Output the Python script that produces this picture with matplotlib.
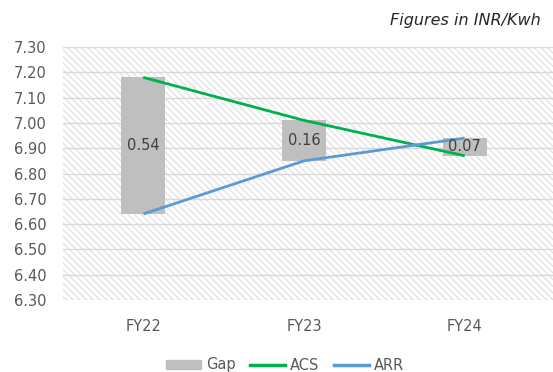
import matplotlib.pyplot as plt
import numpy as np
from matplotlib.patches import Rectangle, Patch
from matplotlib.lines import Line2D

plt.rcParams['font.family'] = ['DejaVu Sans']
plt.rcParams['hatch.linewidth'] = 0.8

categories = ['FY22', 'FY23', 'FY24']
acs = [7.18, 7.01, 6.87]
arr = [6.64, 6.85, 6.94]
gap_labels = ['0.54', '0.16', '0.07']
y_ticks = np.arange(6.30, 7.31, 0.10)

txt = '#595959'
fig = plt.figure(figsize=(5.53, 3.72), dpi=100)
ax = fig.add_axes([63/553, 1-300/372, 1-63/553, (300-47)/372])

# hatched plot area
ax.add_patch(Rectangle((0, 0), 1, 1, transform=ax.transAxes, fill=False,
                       hatch='\\\\\\\\\\', edgecolor='#dedede', linewidth=0, zorder=0))

x = np.arange(len(categories))
lo = np.minimum(acs, arr)
hi = np.maximum(acs, arr)
ax.bar(x, hi - lo, bottom=lo, width=0.275, color='#bfbfbf', zorder=2)
for xi, l, h, lab in zip(x, lo, hi, gap_labels):
    ax.text(xi, (l + h) / 2, lab, ha='center', va='center', fontsize=10.5,
            color='#404040', zorder=5)

ax.plot(x, acs, color='#00b050', lw=2.0, zorder=3, solid_capstyle='butt')
ax.plot(x, arr, color='#5b9bd5', lw=2.0, zorder=4, solid_capstyle='butt')

ax.set_ylim(6.30, 7.30)
ax.set_yticks(y_ticks)
ax.set_yticklabels([f'{v:.2f}' for v in y_ticks])
ax.set_xlim(-0.5, 2.55)
ax.set_xticks(x)
ax.set_xticklabels(categories)
ax.tick_params(length=0, labelsize=10.5, colors=txt)
ax.tick_params(axis='x', pad=14)
ax.tick_params(axis='y', pad=12)
ax.grid(axis='y', color='#d9d9d9', lw=1.0, zorder=1)
ax.set_axisbelow(True)
for s in ax.spines.values():
    s.set_visible(False)

handles = [Patch(color='#bfbfbf'),
           Line2D([], [], color='#00b050', lw=2.5),
           Line2D([], [], color='#5b9bd5', lw=2.5)]
fig.legend(handles, ['Gap', 'ACS', 'ARR'], loc='center', bbox_to_anchor=(285/553, 1-365/372),
           ncol=3, frameon=False, fontsize=10.5, labelcolor=txt, handlelength=2.4,
           handleheight=0.6, handletextpad=0.35, columnspacing=1.0)

fig.text(541/553, 1-20/372, 'Figures in INR/Kwh', ha='right', va='center',
         fontsize=11.5, style='italic', color='#262626')

fig.savefig('out.png', dpi=100)
